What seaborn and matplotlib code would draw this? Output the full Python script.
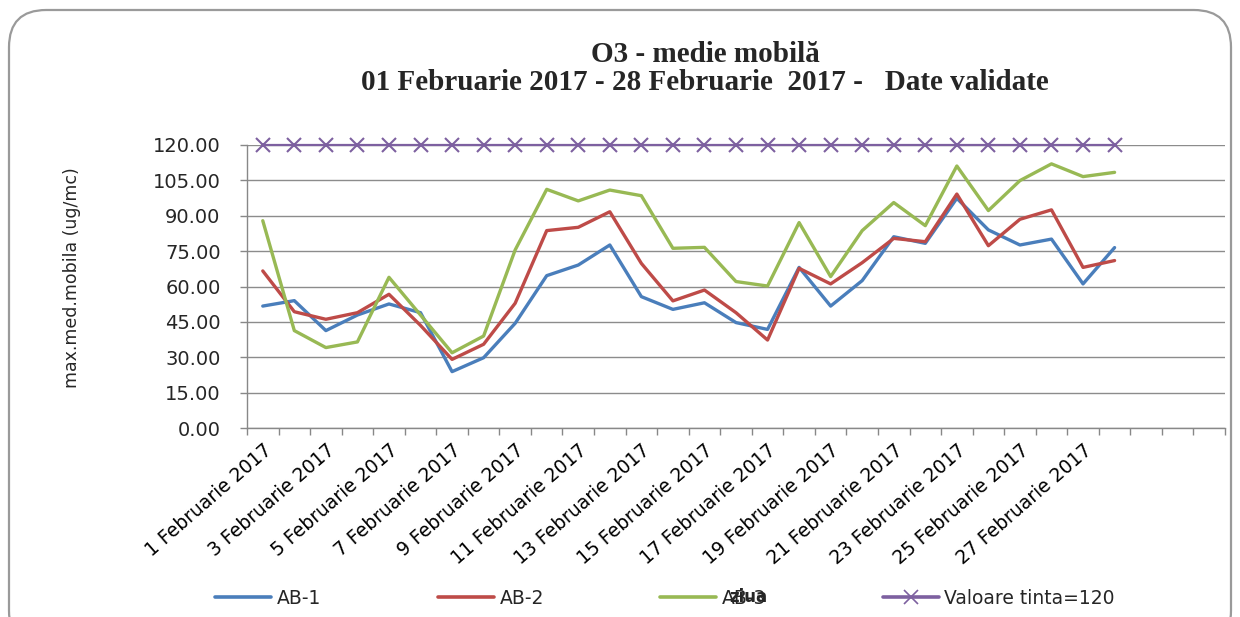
import numpy as np
import matplotlib
matplotlib.use("Agg")
import matplotlib.pyplot as plt
import seaborn as sns
import pandas as pd
from matplotlib.patches import FancyBboxPatch
from matplotlib.lines import Line2D

sns.set_style("white")
plt.rcParams["font.family"] = ["DejaVu Sans"]

#%% data
days = list(range(1, 29))
n_slots = 31  # the axis keeps room for 31 days
tick_labels = ["{} Februarie 2017".format(d) if (d % 2 == 1 and d <= 27) else ""
               for d in range(1, n_slots + 1)]

ab1 = [51.7, 54.0, 41.3, 47.9, 52.6, 48.9, 23.9, 29.8, 44.4, 64.6, 69.1, 77.6, 55.7, 50.3,
       53.1, 44.7, 41.8, 68.1, 51.7, 62.5, 81.1, 78.3, 97.4, 84.0, 77.6, 80.1, 61.1, 76.5]
ab2 = [66.6, 49.3, 46.1, 48.9, 56.7, 43.5, 29.1, 35.5, 52.9, 83.7, 85.1, 91.7, 69.8, 53.9,
       58.5, 48.9, 37.3, 67.7, 61.1, 70.1, 80.4, 79.0, 99.2, 77.3, 88.5, 92.5, 68.1, 71.0]
ab3 = [87.9, 41.3, 34.1, 36.5, 63.9, 47.9, 31.9, 39.0, 75.5, 101.2, 96.3, 100.9, 98.5, 76.2,
       76.6, 62.1, 60.2, 87.1, 64.2, 83.7, 95.6, 85.8, 111.1, 92.2, 104.9, 112.0, 106.6, 108.4]
tinta = [120.0] * 28

series_names = ["AB-1", "AB-2", "AB-3", "Valoare tinta=120"]
colors = ["#4A7EBB", "#BE4B48", "#98B954", "#7D60A0"]

df = pd.DataFrame({"pos": np.arange(len(days)), "AB-1": ab1, "AB-2": ab2,
                   "AB-3": ab3, "Valoare tinta=120": tinta})

#%% figure
fig = plt.figure(figsize=(12.4, 6.17), dpi=100)
ax = fig.add_axes([247 / 1240, 1 - 428 / 617, (1225 - 247) / 1240, (428 - 145) / 617])

for name, col in zip(series_names[:3], colors[:3]):
    sns.lineplot(data=df, x="pos", y=name, color=col, linewidth=2.4, ax=ax, legend=False)

sns.lineplot(data=df, x="pos", y="Valoare tinta=120", color=colors[3], linewidth=1.6,
             marker="x", markersize=10, markeredgewidth=1.5, markeredgecolor=colors[3],
             ax=ax, legend=False, clip_on=False)

ax.set_xlim(-0.5, n_slots - 0.5)
ax.set_ylim(0, 120)
ax.set_yticks(np.arange(0, 121, 15))
ax.set_yticklabels(["{:.2f}".format(v) for v in np.arange(0, 121, 15)])
ax.set_xticks(np.arange(n_slots))
ax.set_xticklabels(tick_labels, rotation=41, ha="right", rotation_mode="anchor")
ax.set_xticks(np.arange(n_slots + 1) - 0.5, minor=True)
ax.tick_params(axis="x", which="major", length=0, pad=9, labelsize=13.5, colors="black")
ax.tick_params(axis="x", which="minor", length=5, width=1, color="#888888", direction="out")
ax.tick_params(axis="y", length=5, width=1, color="#888888", direction="out",
               pad=14, labelsize=14)
ax.tick_params(bottom=True, left=True, which="both")
ax.set_xlabel("")
ax.set_ylabel("")

ax.grid(axis="y", color="#8c8c8c", linewidth=1.0)
ax.grid(axis="x", visible=False)
ax.set_axisbelow(True)
for side in ["top", "right"]:
    ax.spines[side].set_visible(False)
for side in ["left", "bottom"]:
    ax.spines[side].set_color("#888888")
    ax.spines[side].set_linewidth(1.0)

#%% texts
fig.text(705 / 1240, 1 - 54 / 617, "O3 - medie mobilă", ha="center", va="center",
         fontsize=21, fontweight="bold", family="Liberation Serif")
fig.text(705 / 1240, 1 - 82 / 617, "01 Februarie 2017 - 28 Februarie  2017 -   Date validate",
         ha="center", va="center", fontsize=21, fontweight="bold", family="Liberation Serif")
fig.text(72 / 1240, 1 - 278 / 617, "max.med.mobila (ug/mc)", rotation=90, ha="center",
         va="center", fontsize=12.5)

handles = [Line2D([], [], color=c, linewidth=2.6) for c in colors[:3]]
handles.append(Line2D([], [], color=colors[3], linewidth=2.6, marker="x",
                      markersize=10, markeredgewidth=1.2))
fig.legend(handles, series_names, loc="center", bbox_to_anchor=(665 / 1240, 1 - 598 / 617),
           ncol=4, frameon=False, fontsize=13.5, handlelength=3.0, columnspacing=6.2,
           handletextpad=0.3)

fig.text(748 / 1240, 1 - 597 / 617, "ziua", ha="center", va="center", fontsize=12,
         fontweight="bold")

# rounded frame around the chart
frame = FancyBboxPatch((9 / 1240, -0.05), 1222 / 1240, (617 - 10) / 617 + 0.05,
                       boxstyle="round,pad=0,rounding_size=0.03", transform=fig.transFigure,
                       facecolor="none", edgecolor="#9a9a9a", linewidth=1.6,
                       mutation_aspect=1240 / 617)
fig.patches.append(frame)

fig.savefig("out.png", dpi=100)
